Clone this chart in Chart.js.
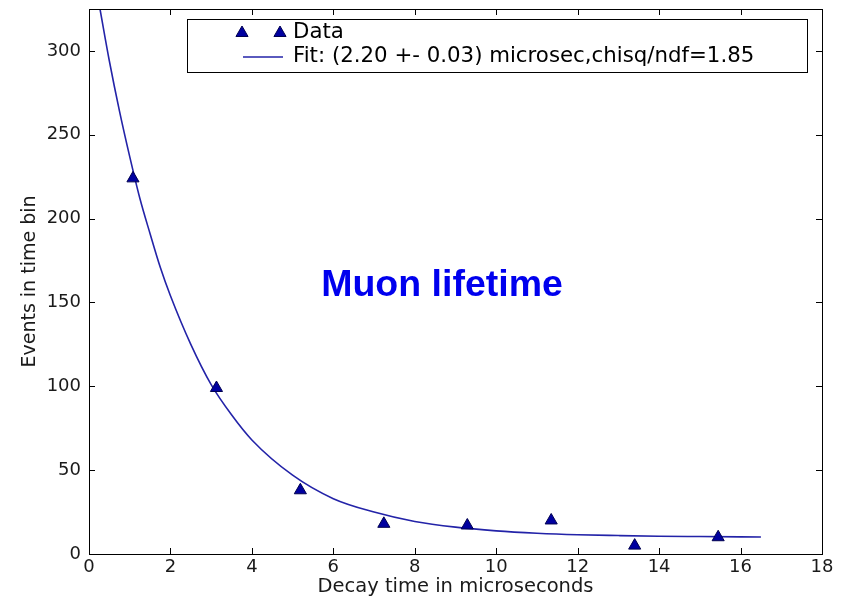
<!DOCTYPE html>
<html>
<head>
<meta charset="utf-8">
<script src="https://cdn.jsdelivr.net/npm/chart.js@4.4.0/dist/chart.umd.min.js"></script>
<style>
  html, body { margin: 0; padding: 0; background: #fff; }
</style>
</head>
<body>
<canvas id="muonChart" width="841" height="597"></canvas>
<script>
/* Measured decay-time histogram (bin centres, counts) */
const dataTimes = [1.08, 3.13, 5.19, 7.24, 9.29, 11.35, 13.40, 15.45];
const dataCounts = [224, 99, 38, 18, 17, 20, 5, 10];

/* Fit curve */
const fitTimes = [0.27, 0.5, 0.75, 1, 1.25, 1.5, 1.75, 2, 2.5, 3, 3.5, 4, 5, 6, 7, 8, 9, 10, 11, 12, 13, 14, 15, 16, 16.5];
const fitCounts = [325, 294, 264, 237, 212, 191, 171, 154, 125, 101, 83, 68, 47, 33, 25, 19.4, 16, 13.8, 12.4, 11.5, 11, 10.6, 10.4, 10.2, 10.1];

const xTicks = [0, 2, 4, 6, 8, 10, 12, 14, 16, 18];
const yTicks = [0, 50, 100, 150, 200, 250, 300];

const dataLabel = "Data";
const fitLabel = "Fit: (2.20 +- 0.03) microsec,chisq/ndf=1.85";
const titleText = "Muon lifetime";

const markerFill = "#0000a0";
const markerEdge = "#000050";
const lineColor = "#2323a8";
const tickFont = { family: "DejaVu Sans", size: 18 };

function toPoints(xs, ys) {
    return xs.map((x, i) => ({ x, y: ys[i] }));
}

function drawTriangle(ctx, x, y, r) {
    ctx.beginPath();
    ctx.moveTo(x, y - r);
    ctx.lineTo(x + r * 0.866, y + r * 0.5);
    ctx.lineTo(x - r * 0.866, y + r * 0.5);
    ctx.closePath();
    ctx.fillStyle = markerFill;
    ctx.fill();
    ctx.strokeStyle = markerEdge;
    ctx.lineWidth = 1;
    ctx.stroke();
}

/* Frame with inward ticks on all four sides, matplotlib style */
const framePlugin = {
    id: "frame",
    afterDraw(chart) {
        const { ctx, chartArea: a, scales } = chart;
        ctx.save();
        ctx.strokeStyle = "#000";
        ctx.lineWidth = 1;
        ctx.strokeRect(a.left + 0.5, a.top + 0.5, a.right - a.left, a.bottom - a.top);
        ctx.beginPath();
        for (const t of xTicks) {
            const px = Math.round(scales.x.getPixelForValue(t)) + 0.5;
            ctx.moveTo(px, a.bottom); ctx.lineTo(px, a.bottom - 6);
            ctx.moveTo(px, a.top); ctx.lineTo(px, a.top + 6);
        }
        for (const t of yTicks) {
            const py = Math.round(scales.y.getPixelForValue(t)) + 0.5;
            ctx.moveTo(a.left, py); ctx.lineTo(a.left + 6, py);
            ctx.moveTo(a.right, py); ctx.lineTo(a.right - 6, py);
        }
        ctx.stroke();

        // title text inside the plot
        ctx.fillStyle = "#0000ee";
        ctx.font = "bold 37.5px 'Liberation Sans', Arial, sans-serif";
        ctx.textAlign = "center";
        ctx.textBaseline = "middle";
        ctx.fillText(titleText, scales.x.getPixelForValue(8.67), scales.y.getPixelForValue(160));

        // legend box
        const lx = a.left + 98, ly = a.top + 10, lw = 620, lh = 53;
        ctx.fillStyle = "#fff";
        ctx.fillRect(lx, ly, lw, lh);
        ctx.strokeStyle = "#000";
        ctx.strokeRect(lx + 0.5, ly + 0.5, lw, lh);
        drawTriangle(ctx, lx + 55, ly + 14, 7);
        drawTriangle(ctx, lx + 93, ly + 14, 7);
        ctx.beginPath();
        ctx.moveTo(lx + 56, ly + 38);
        ctx.lineTo(lx + 96, ly + 38);
        ctx.strokeStyle = lineColor;
        ctx.lineWidth = 1.5;
        ctx.stroke();
        ctx.fillStyle = "#000";
        ctx.font = "21.3px 'DejaVu Sans'";
        ctx.textAlign = "left";
        ctx.fillText(dataLabel, lx + 106, ly + 13);
        ctx.fillText(fitLabel, lx + 106, ly + 37);
        ctx.restore();
    }
};

const ctx = document.getElementById("muonChart").getContext("2d");
new Chart(ctx, {
    type: "scatter",
    data: {
        datasets: [
            {
                label: fitLabel,
                data: toPoints(fitTimes, fitCounts),
                showLine: true,
                borderColor: lineColor,
                borderWidth: 1.6,
                pointRadius: 0,
                cubicInterpolationMode: "monotone",
                fill: false,
                order: 2
            },
            {
                label: dataLabel,
                data: toPoints(dataTimes, dataCounts),
                showLine: false,
                pointStyle: "triangle",
                pointRadius: 7,
                backgroundColor: markerFill,
                borderColor: markerEdge,
                borderWidth: 1,
                order: 1
            }
        ]
    },
    options: {
        responsive: false,
        devicePixelRatio: 1,
        animation: false,
        layout: { padding: { top: 9, right: 19, left: 0, bottom: 0 } },
        plugins: {
            legend: { display: false },
            tooltip: { enabled: false }
        },
        scales: {
            x: {
                type: "linear",
                min: 0,
                max: 18,
                afterBuildTicks: (s) => { s.ticks = xTicks.map(v => ({ value: v })); },
                afterFit: (s) => { s.height = 43; s.paddingLeft = 0; s.paddingRight = 0; },
                grid: { display: false, drawTicks: false },
                border: { display: false },
                ticks: { font: tickFont, color: "#1a1a1a", padding: 3, maxRotation: 0 },
                title: {
                    display: true,
                    text: "Decay time in microseconds",
                    font: { family: "DejaVu Sans", size: 19.5 },
                    color: "#1a1a1a",
                    padding: { top: 0, bottom: -2 }
                }
            },
            y: {
                type: "linear",
                min: 0,
                max: 325,
                afterBuildTicks: (s) => { s.ticks = yTicks.map(v => ({ value: v })); },
                afterFit: (s) => { s.width = 89; s.paddingTop = 0; s.paddingBottom = 0; },
                grid: { display: false, drawTicks: false },
                border: { display: false },
                ticks: { font: tickFont, color: "#1a1a1a", padding: 8 },
                title: {
                    display: true,
                    text: "Events in time bin",
                    font: { family: "DejaVu Sans", size: 19 },
                    color: "#1a1a1a",
                    padding: { top: 19, bottom: 0 }
                }
            }
        }
    },
    plugins: [framePlugin]
});
</script>
</body>
</html>
